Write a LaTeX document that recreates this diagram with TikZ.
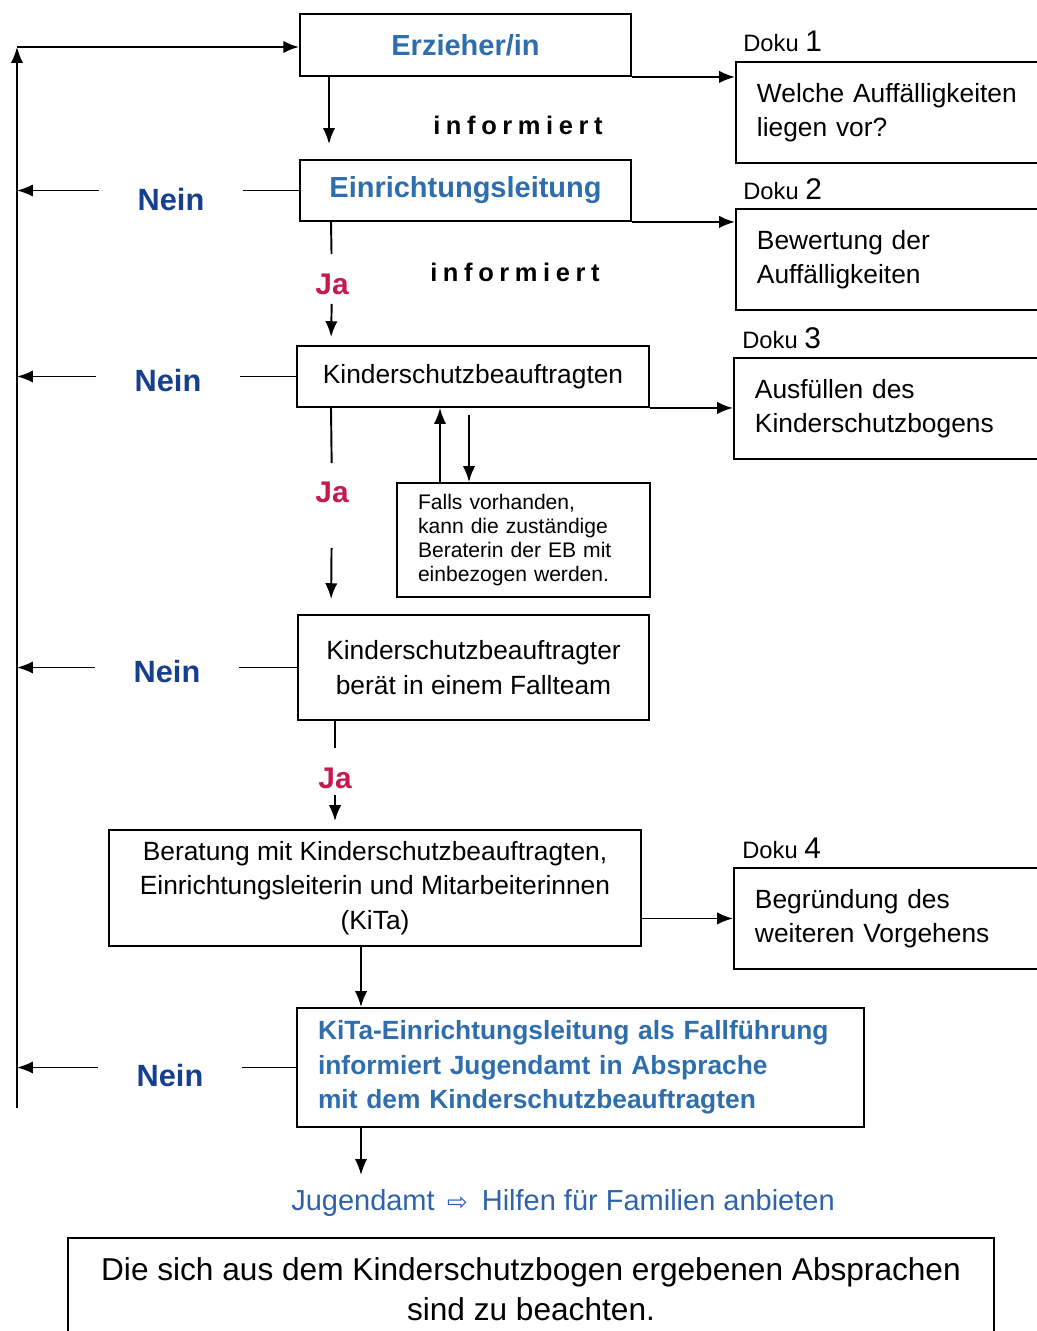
\documentclass[tikz,border=0pt]{standalone}
\usepackage{fontspec}
\setmainfont{Liberation Sans}
\newfontfamily\arrowfont{DejaVu Sans}
\newfontfamily\spacedfont[LetterSpace=22]{Liberation Sans}
\usetikzlibrary{arrows.meta}

\definecolor{boxblue}{HTML}{2E6DAE}
\definecolor{neinblue}{HTML}{173F8F}
\definecolor{jared}{HTML}{C8194C}
\definecolor{jugblue}{HTML}{2F62A8}

\tikzset{
    box/.style={draw, line width=1.1pt, inner sep=0pt, align=center,
        font=\fontsize{15}{19.6}\selectfont},
    dokubox/.style={draw, line width=1.1pt, anchor=north west, minimum width=7cm,
        minimum height=2.02cm, text width=6.16cm, inner xsep=0.42cm, align=left,
        font=\fontsize{15}{19.6}\selectfont},
    doku/.style={anchor=base west, inner sep=0pt, font=\fontsize{13.5}{16}\selectfont},
    arr/.style={-{Latex[length=9pt,width=7pt]}, line width=1.1pt},
    nein/.style={text=neinblue, inner xsep=0.77cm, font=\fontsize{17.5}{20}\selectfont\bfseries},
    ja/.style={text=jared, inner sep=0pt, font=\fontsize{17}{20}\selectfont\bfseries},
    inf/.style={font=\fontsize{14.5}{17}\selectfont\spacedfont\bfseries}
}

\begin{document}
\begin{tikzpicture}[x=0.02cm, y=-0.02cm]
    \useasboundingbox (0,0) rectangle (1037,1331);

    % Columns for the vertical connectors
    \coordinate (fbtop) at (17,47);
    \coordinate (fbbot) at (17,1108);
    \coordinate (colA) at (331,0);
    \coordinate (colB) at (361,0);
    \coordinate (colC) at (440,0);
    \coordinate (colD) at (469,0);
    \coordinate (colE) at (329,0);
    \coordinate (jtop) at (361,1175);

    % Main boxes
    \node[box, minimum width=6.62cm, minimum height=1.24cm, text=boxblue,
        font=\fontsize{16.5}{20}\selectfont\bfseries] (erz) at (465.5,45) {Erzieher/in};
    \node[box, minimum width=6.62cm, minimum height=1.22cm, text=boxblue,
        font=\fontsize{16.5}{20}\selectfont\bfseries] (ein) at (465.5,190.5) {Einrichtungsleitung};
    \node[box, minimum width=7.04cm, minimum height=1.22cm] (ksb) at (473,376.5) {Kinderschutzbeauftragten};
    \node[box, minimum width=5.06cm, minimum height=2.28cm, text width=4.22cm, inner xsep=0.42cm,
        align=left, font=\fontsize{12}{13.6}\selectfont] (falls) at (523.5,540)
        {Falls vorhanden,\\kann die zuständige\\Beraterin der EB mit\\einbezogen werden.};
    \node[box, minimum width=7.02cm, minimum height=2.1cm] (fall) at (473.5,667.5)
        {Kinderschutzbeauftragter\\berät in einem Fallteam};
    \node[box, minimum width=10.64cm, minimum height=2.32cm] (ber) at (375,888)
        {Beratung mit Kinderschutzbeauftragten,\\Einrichtungsleiterin und Mitarbeiterinnen\\(KiTa)};
    \node[box, minimum width=11.34cm, minimum height=2.38cm, text width=10.5cm, inner xsep=0.42cm,
        align=left, text=boxblue, font=\fontsize{15}{19.6}\selectfont\bfseries] (kita) at (580.5,1067.5)
        {KiTa-Einrichtungsleitung als Fallführung\\informiert Jugendamt in Absprache\\mit dem Kinderschutzbeauftragten};
    \node[text=jugblue, font=\fontsize{16.5}{20}\selectfont] (jug) at (563,1203)
        {Jugendamt\hspace{0.25cm}{\arrowfont\fontsize{14}{16}\selectfont ⇨}\hspace{0.28cm}Hilfen für Familien anbieten};
    \node[box, minimum width=18.52cm, minimum height=2.04cm, font=\fontsize{18}{22.7}\selectfont] (note) at (531,1289)
        {Die sich aus dem Kinderschutzbogen ergebenen Absprachen\\sind zu beachten.};

    % Doku boxes
    \node[dokubox] (d1) at (735,61) {Welche Auffälligkeiten\\liegen vor?};
    \node[dokubox] (d2) at (735,208) {Bewertung der\\Auffälligkeiten};
    \node[dokubox] (d3) at (733,357) {Ausfüllen des\\Kinderschutzbogens};
    \node[dokubox] (d4) at (733,867) {Begründung des\\weiteren Vorgehens};
    \node[doku] (l1) at (743,52) {Doku \fontsize{17}{20}\selectfont 1};
    \node[doku] (l2) at (743,199) {Doku \fontsize{17}{20}\selectfont 2};
    \node[doku] (l3) at (742,348) {Doku \fontsize{17}{20}\selectfont 3};
    \node[doku] (l4) at (742,858) {Doku \fontsize{17}{20}\selectfont 4};

    % Labels
    \node[inf] (inf1) at (518,125) {informiert};
    \node[inf] (inf2) at (515,272) {informiert};
    \node[ja] (ja1) at (332,284) {Ja};
    \node[ja] (ja2) at (332,492) {Ja};
    \node[ja] (ja3) at (335,778) {Ja};
    \node[nein] (nein1) at (171,200) {Nein};
    \node[nein] (nein2) at (168,381) {Nein};
    \node[nein] (nein3) at (167,672) {Nein};
    \node[nein] (nein4) at (170,1075) {Nein};

    % Feedback line on the left
    \draw[arr] (fbbot) -- (fbtop);
    \draw[arr] (fbtop) -- (erz.west |- fbtop);

    % Down the middle
    \draw[arr, shorten >=0.3cm] (colE |- erz.south) -- (colE |- ein.north);
    \draw[line width=1.1pt, shorten >=0.6cm] (colA |- ein.south) -- (ja1.center);
    \draw[arr, shorten <=0.4cm, shorten >=0.16cm] (ja1.center) -- (colA |- ksb.north);
    \draw[line width=1.1pt, shorten >=0.58cm] (colA |- ksb.south) -- (ja2.center);
    \draw[arr, shorten <=1.12cm, shorten >=0.3cm] (ja2.center) -- (colA |- fall.north);
    \draw[line width=1.1pt, shorten >=0.6cm] (ja3.center |- fall.south) -- (ja3.center);
    \draw[arr, shorten <=0.34cm, shorten >=0.16cm] (ja3.center) -- (ja3.center |- ber.north);
    \draw[arr] (colB |- ber.south) -- (colB |- kita.north);
    \draw[arr] (colB |- kita.south) -- (jtop);

    % Falls box
    \draw[arr] (colC |- falls.north) -- (colC |- ksb.south);
    \draw[arr, shorten <=0.14cm] (colD |- ksb.south) -- (colD |- falls.north);

    % To the Doku boxes
    \draw[arr] (erz.south east) -- (d1.west |- erz.south east);
    \draw[arr] (ein.south east) -- (d2.west |- ein.south east);
    \draw[arr] (ksb.south east) -- (d3.west |- ksb.south east);
    \draw[arr] (ber.east |- d4.west) -- (d4.west);

    % Nein branches
    \draw[line width=1.1pt] (ein.west) -- (nein1.east |- ein.west);
    \draw[arr] (nein1.west |- ein.west) -- (fbbot |- ein.west);
    \draw[line width=1.1pt] (ksb.west) -- (nein2.east |- ksb.west);
    \draw[arr] (nein2.west |- ksb.west) -- (fbbot |- ksb.west);
    \draw[line width=1.1pt] (fall.west) -- (nein3.east |- fall.west);
    \draw[arr] (nein3.west |- fall.west) -- (fbbot |- fall.west);
    \draw[line width=1.1pt] (kita.west) -- (nein4.east |- kita.west);
    \draw[arr] (nein4.west |- kita.west) -- (fbbot |- kita.west);
\end{tikzpicture}
\end{document}
